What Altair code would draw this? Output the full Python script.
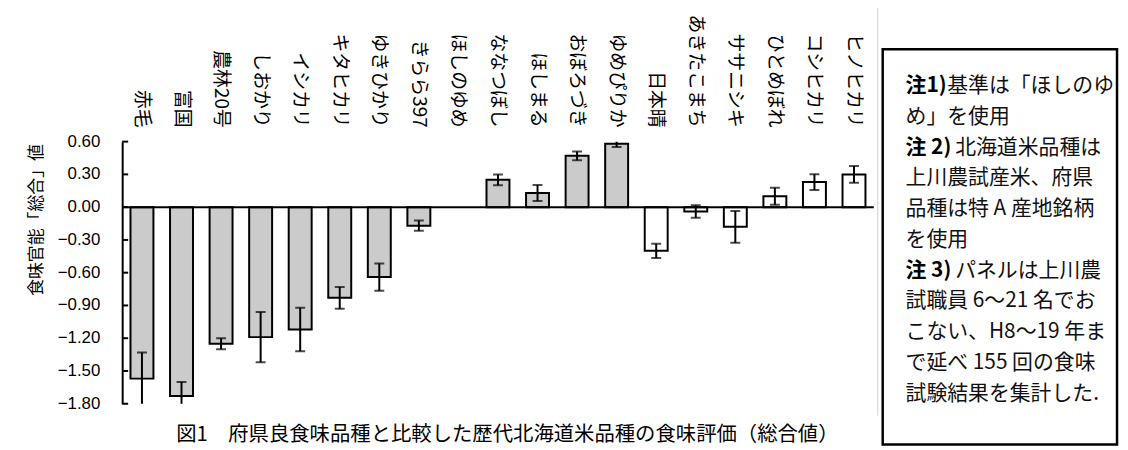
import altair as alt
import pandas as pd

# ---- data ----
varieties = ["赤毛", "富国", "農林20号", "しおかり", "イシカリ", "キタヒカリ", "ゆきひかり",
             "きらら397", "ほしのゆめ", "ななつぼし", "ほしまる", "おぼろづき", "ゆめぴりか",
             "日本晴", "あきたこまち", "ササニシキ", "ひとめぼれ", "コシヒカリ", "ヒノヒカリ"]
means = [-1.57, -1.73, -1.25, -1.19, -1.12, -0.83, -0.64, -0.17, 0.00, 0.25, 0.13, 0.47, 0.58,
         -0.40, -0.04, -0.18, 0.10, 0.23, 0.30]
errors = [0.24, 0.13, 0.05, 0.23, 0.20, 0.10, 0.125, 0.047, 0.0, 0.05, 0.073, 0.04, 0.03,
          0.065, 0.057, 0.145, 0.078, 0.072, 0.077]
groups = ["北海道", "北海道", "北海道", "北海道", "北海道", "北海道", "北海道", "北海道", "北海道",
          "北海道", "北海道", "北海道", "北海道", "府県", "府県", "府県", "府県", "府県", "府県"]
tick_values = [-1.8, -1.5, -1.2, -0.9, -0.6, -0.3, 0.0, 0.3, 0.6]

y_title = "食味官能「総合」値"
caption = "図1　府県良食味品種と比較した歴代北海道米品種の食味評価（総合値）"
note_prefix = ["注1)", "", "注 2)", "", "", "", "注 3)", "", "", "", ""]
note_body = ["基準は「ほしのゆ", "め」を使用", "北海道米品種は", "上川農試産米、府県",
             "品種は特 A 産地銘柄", "を使用", "パネルは上川農", "試職員 6〜21 名でお",
             "こない、H8〜19 年ま", "で延べ 155 回の食味", "試験結果を集計した."]

FONT_JP = "Noto Sans CJK JP"
W, H = 757, 264

df = pd.DataFrame({"variety": varieties, "mean": means, "err": errors, "group": groups})
ticks_df = pd.DataFrame({"t": tick_values})
notes_df = pd.DataFrame({"i": list(range(len(note_body))), "pre": note_prefix, "body": note_body})
one = pd.DataFrame({"k": [0]})

x_scale = alt.Scale(domain=varieties, paddingInner=0.42, paddingOuter=0.21)
y_scale = alt.Scale(domain=[-1.8, 0.6], nice=False, zero=False)

base = alt.Chart(df)

bars = base.transform_filter("datum.mean != 0").mark_bar(stroke="black", strokeWidth=2).encode(
    x=alt.X("variety:N", scale=x_scale, axis=None, sort=varieties),
    y=alt.Y("mean:Q", scale=y_scale, title=y_title,
            axis=alt.Axis(values=tick_values, ticks=False, grid=False, labels=False,
                          domainColor="black", domainWidth=2,
                          titleFont=FONT_JP, titleFontSize=17, titleFontWeight="normal",
                          titleColor="black", titleAngle=-90, titleAlign="right",
                          titleBaseline="middle", titleX=-86, titleY=2)),
    y2=alt.datum(0),
    fill=alt.Fill("group:N", scale=alt.Scale(domain=["北海道", "府県"], range=["#cbcbcb", "#ffffff"]),
                  legend=None),
)

err_base = base.transform_filter("datum.err > 0").transform_calculate(
    lo="datum.mean - datum.err", hi="datum.mean + datum.err")

err_rule = err_base.mark_rule(clip=True, color="black", strokeWidth=2).encode(
    x=alt.X("variety:N", scale=x_scale, axis=None, sort=varieties),
    y=alt.Y("lo:Q", scale=y_scale, title=y_title),
    y2="hi:Q",
)
cap_lo = err_base.mark_tick(clip=True, color="black", size=10, thickness=2).encode(
    x=alt.X("variety:N", scale=x_scale, axis=None, sort=varieties),
    y=alt.Y("lo:Q", scale=y_scale, title=y_title),
)
cap_hi = err_base.mark_tick(clip=True, color="black", size=10, thickness=2).encode(
    x=alt.X("variety:N", scale=x_scale, axis=None, sort=varieties),
    y=alt.Y("hi:Q", scale=y_scale, title=y_title),
)

zero_line = alt.Chart(pd.DataFrame({"z": [0.0]})).mark_rule(color="black", strokeWidth=2).encode(
    y=alt.Y("z:Q", scale=y_scale, title=y_title))

inner_ticks = alt.Chart(ticks_df).mark_rule(color="black", strokeWidth=2).encode(
    y=alt.Y("t:Q", scale=y_scale, title=y_title), x=alt.value(0), x2=alt.value(6))

y_labels = alt.Chart(ticks_df).transform_calculate(
    lab="replace(format(datum.t, '.2f'), '-', '\u2212')").mark_text(
    font="Liberation Sans", fontSize=17, color="black", align="right", baseline="middle").encode(
    y=alt.Y("t:Q", scale=y_scale, title=y_title), x=alt.value(-22), text="lab:N")

x_labels = base.mark_text(angle=90, align="right", baseline="middle", font=FONT_JP,
                          fontSize=19, color="black").encode(
    x=alt.X("variety:N", scale=x_scale, axis=None, sort=varieties),
    y=alt.value(-14),
    text="variety:N",
)

cap_text = alt.Chart(one).mark_text(font=FONT_JP, fontSize=20.5, color="black",
                                    align="center", baseline="middle").encode(
    x=alt.value(388), y=alt.value(296), text=alt.value(caption))

gray_line = alt.Chart(one).mark_rule(color="#d0d0d0", strokeWidth=1).encode(
    x=alt.value(761), y=alt.value(-141), y2=alt.value(276))

box = alt.Chart(one).mark_rect(fill="white", stroke="black", strokeWidth=2.5).encode(
    x=alt.value(766), x2=alt.value(1002), y=alt.value(-93), y2=alt.value(305))

notes_base = alt.Chart(notes_df).transform_calculate(py="-56 + datum.i * 31")

note_pre = notes_base.transform_filter("datum.pre != ''").mark_text(
    font=FONT_JP, fontSize=21, fontWeight="bold", color="black", align="left", baseline="middle").encode(
    x=alt.value(789), y=alt.Y("py:Q", scale=None), text="pre:N")

note_txt = notes_base.transform_calculate(
    bx="789 + (datum.pre == '' ? 0 : (length(datum.pre) == 3 ? 42 : 50))").mark_text(
    font=FONT_JP, fontSize=21, color="#111111", align="left", baseline="middle").encode(
    x=alt.X("bx:Q", scale=None), y=alt.Y("py:Q", scale=None), text="body:N")

chart = alt.layer(
    bars, zero_line, err_rule, cap_lo, cap_hi, inner_ticks, y_labels, x_labels, cap_text,
    gray_line, box, note_pre, note_txt
).properties(
    width=W, height=H,
    autosize=alt.AutoSizeParams(type="none"),
    padding={"left": 115, "top": 133, "right": 248, "bottom": 45},
    background="white",
).configure_view(stroke=None)

chart.save("out.html", embed_options={"renderer": "svg", "actions": False})
